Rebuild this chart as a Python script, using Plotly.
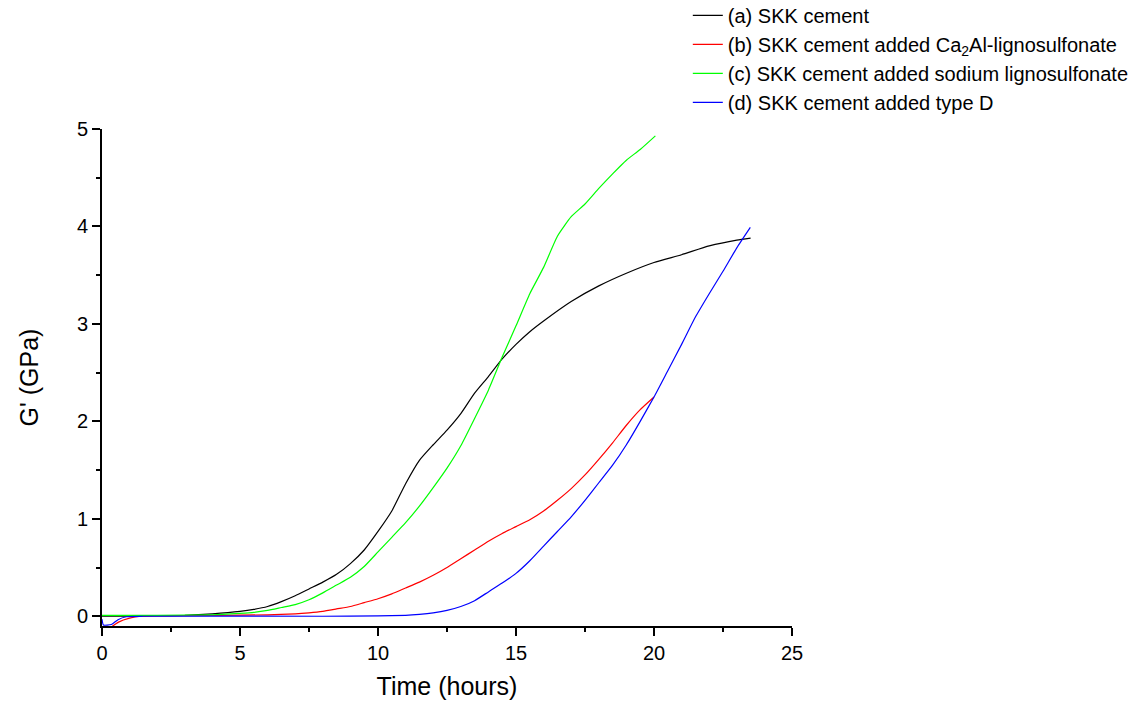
import plotly.graph_objects as go

# Storage modulus G' (GPa) versus hydration time (hours)
time_a = [0, 1, 2, 3, 4, 5, 5.5, 6, 6.5, 7, 7.5, 8, 8.5, 9, 9.5, 10, 10.5, 11, 11.5, 12,
          12.5, 13, 13.5, 14, 14.5, 15, 15.5, 16, 17, 18, 19, 20, 21, 22, 23, 23.5]
g_a = [0, 0, 0.005, 0.01, 0.025, 0.05, 0.07, 0.10, 0.15, 0.21, 0.28, 0.35, 0.43, 0.54, 0.68,
       0.87, 1.08, 1.36, 1.60, 1.76, 1.91, 2.08, 2.29, 2.46, 2.64, 2.79, 2.92, 3.03, 3.23,
       3.39, 3.52, 3.63, 3.71, 3.80, 3.86, 3.88]

time_b = [0.34, 0.6, 1.0, 1.4, 2, 4, 6, 7, 7.5, 8, 8.5, 9, 9.5, 10, 10.5, 11, 11.5, 12, 12.5,
          13, 13.5, 14, 14.5, 15, 15.5, 16, 16.5, 17, 17.5, 18, 18.5, 19, 19.5, 20]
g_b = [-0.11, -0.06, -0.02, 0.0, 0.003, 0.008, 0.015, 0.025, 0.035, 0.05, 0.075, 0.10, 0.14,
       0.18, 0.23, 0.29, 0.35, 0.42, 0.50, 0.59, 0.68, 0.77, 0.85, 0.92, 0.99, 1.08, 1.19,
       1.31, 1.45, 1.61, 1.78, 1.96, 2.12, 2.25]

time_c = [0, 2, 4, 5, 5.5, 6, 6.5, 7, 7.5, 8, 8.5, 9, 9.5, 10, 10.5, 11, 11.5, 12, 12.5, 13,
          13.5, 14, 14.5, 15, 15.5, 16, 16.5, 17, 17.5, 18, 18.5, 19, 19.5, 20.05]
g_c = [0.01, 0.01, 0.015, 0.03, 0.04, 0.06, 0.09, 0.12, 0.17, 0.24, 0.32, 0.40, 0.51, 0.66,
       0.81, 0.96, 1.13, 1.32, 1.52, 1.75, 2.03, 2.32, 2.66, 2.98, 3.31, 3.58, 3.90, 4.10,
       4.23, 4.39, 4.54, 4.68, 4.79, 4.93]

time_d = [0, 0.05, 0.34, 0.58, 0.88, 1.5, 8, 10, 11, 11.5, 12, 12.5, 13, 13.5, 14, 14.5, 15,
          15.5, 16, 16.5, 17, 17.5, 18, 18.5, 19, 19.5, 20, 20.5, 21, 21.5, 22, 22.5, 23, 23.49]
g_d = [-0.03, -0.09, -0.085, -0.035, -0.005, 0, 0, 0.003, 0.01, 0.02, 0.035, 0.06, 0.10, 0.16,
       0.25, 0.34, 0.44, 0.57, 0.72, 0.87, 1.02, 1.19, 1.37, 1.55, 1.76, 2.00, 2.25, 2.52,
       2.79, 3.07, 3.31, 3.54, 3.78, 3.99]

series = [
    ("(a) SKK cement", time_a, g_a, "#000000"),
    ("(b) SKK cement added Ca<sub>2</sub>Al-lignosulfonate", time_b, g_b, "#ff0000"),
    ("(c) SKK cement added sodium lignosulfonate", time_c, g_c, "#00ff00"),
    ("(d) SKK cement added type D", time_d, g_d, "#0000ff"),
]

FONT = "Liberation Sans, Arial, sans-serif"

fig = go.Figure()
for name, x, y, color in series:
    fig.add_trace(go.Scatter(
        x=x, y=y, mode="lines", name=name,
        line=dict(color=color, width=1.2, shape="spline", smoothing=0.5),
    ))

axis_common = dict(
    showline=True, linecolor="black", linewidth=2,
    ticks="outside", ticklen=8, tickwidth=2, tickcolor="black",
    showgrid=False, zeroline=False, mirror=False,
    tickfont=dict(family=FONT, size=20, color="black"),
)

fig.update_xaxes(
    range=[0, 25], tick0=0, dtick=5,
    minor=dict(ticks="outside", ticklen=4, tickwidth=2, tickcolor="black", dtick=2.5),
    title=dict(text="Time (hours)", font=dict(family=FONT, size=25, color="black"), standoff=14),
    **axis_common,
)
fig.update_yaxes(
    range=[-0.1, 5], tick0=0, dtick=1,
    minor=dict(ticks="outside", ticklen=4, tickwidth=2, tickcolor="black", dtick=0.5),
    title=dict(text="G' (GPa)", font=dict(family=FONT, size=25, color="black"), standoff=31),
    **axis_common,
)

fig.update_layout(
    width=1148, height=708,
    margin=dict(l=102, r=356, t=129, b=82, pad=0, autoexpand=False),
    paper_bgcolor="white", plot_bgcolor="white",
    font=dict(family=FONT, color="black"),
    legend=dict(
        x=0.849, y=1.268, xanchor="left", yanchor="top",
        font=dict(family=FONT, size=20, color="black"),
        bgcolor="rgba(0,0,0,0)", borderwidth=0,
        tracegroupgap=0,
    ),
)

fig.write_html("out.html")
